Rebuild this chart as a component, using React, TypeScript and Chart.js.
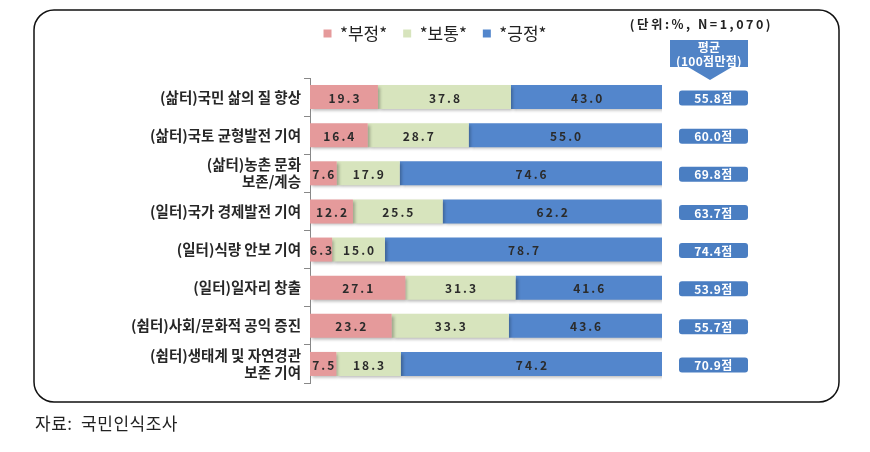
import React, { useEffect, useRef } from "react";
import { Chart, registerables } from "chart.js";
Chart.register(...registerables);

const categories: (string | string[])[] = [
  "(삶터)국민 삶의 질 향상",
  "(삶터)국토 균형발전 기여",
  ["(삶터)농촌 문화", "보존/계승"],
  "(일터)국가 경제발전 기여",
  "(일터)식량 안보 기여",
  "(일터)일자리 창출",
  "(쉼터)사회/문화적 공익 증진",
  ["(쉼터)생태계 및 자연경관", "보존 기여"],
];
const seriesNames = ["*부정*", "*보통*", "*긍정*"];
const negative = [19.3, 16.4, 7.6, 12.2, 6.3, 27.1, 23.2, 7.5];
const neutral = [37.8, 28.7, 17.9, 25.5, 15.0, 31.3, 33.3, 18.3];
const positive = [43.0, 55.0, 74.6, 62.2, 78.7, 41.6, 43.6, 74.2];
const averages = [55.8, 60.0, 69.8, 63.7, 74.4, 53.9, 55.7, 70.9];
const unitText = "(단위:%, N=1,070)";
const headerLines = ["평균", "(100점만점)"];
const sourceText = "자료:  국민인식조사";

const COLORS = ["#e59a9b", "#d7e4bd", "#5386cc"];
const KFONT = "'Noto Sans CJK KR', 'Noto Sans', sans-serif";

function roundRect(ctx: CanvasRenderingContext2D, x: number, y: number, w: number, h: number, r: number) {
  ctx.beginPath();
  ctx.moveTo(x + r, y);
  ctx.lineTo(x + w - r, y);
  ctx.arcTo(x + w, y, x + w, y + r, r);
  ctx.lineTo(x + w, y + h - r);
  ctx.arcTo(x + w, y + h, x + w - r, y + h, r);
  ctx.lineTo(x + r, y + h);
  ctx.arcTo(x, y + h, x, y + h - r, r);
  ctx.lineTo(x, y + r);
  ctx.arcTo(x, y, x + r, y, r);
  ctx.closePath();
}

function spaced(ctx: CanvasRenderingContext2D, px: number) {
  (ctx as any).letterSpacing = px + "px";
}

const decoPlugin = {
  id: "deco",
  beforeDraw(chart: any) {
    const ctx: CanvasRenderingContext2D = chart.ctx;
    ctx.save();
    ctx.fillStyle = "#ffffff";
    ctx.fillRect(0, 0, chart.width, chart.height);
    // outer rounded frame
    ctx.lineWidth = 1.5;
    ctx.strokeStyle = "#111";
    roundRect(ctx, 34, 10, 805, 392, 20);
    ctx.stroke();
    // unit text
    ctx.fillStyle = "#222";
    ctx.font = `bold 12.5px ${KFONT}`;
    spaced(ctx, 2.5);
    ctx.textAlign = "right";
    ctx.textBaseline = "middle";
    ctx.fillText(unitText, 773, 24);
    // header arrow
    ctx.fillStyle = "#5083c6";
    ctx.fillRect(670, 40, 78, 27);
    ctx.beginPath();
    ctx.moveTo(688, 67);
    ctx.lineTo(732, 67);
    ctx.lineTo(710, 80);
    ctx.closePath();
    ctx.fill();
    ctx.fillStyle = "#ffffff";
    ctx.font = `bold 12px ${KFONT}`;
    spaced(ctx, 0.3);
    ctx.textAlign = "center";
    ctx.fillText(headerLines[0], 709, 47);
    ctx.fillText(headerLines[1], 709, 61);
    // source
    ctx.fillStyle = "#222";
    ctx.font = `17px ${KFONT}`;
    spaced(ctx, 0.5);
    ctx.textAlign = "left";
    ctx.fillText(sourceText, 35, 424);
    ctx.restore();
  },
  beforeDatasetsDraw(chart: any) {
    const ctx = chart.ctx;
    ctx.save();
    ctx.shadowColor = "rgba(0,0,0,0.28)";
    ctx.shadowBlur = 3;
    ctx.shadowOffsetX = 2;
    ctx.shadowOffsetY = 2;
  },
  afterDatasetsDraw(chart: any) {
    const ctx: CanvasRenderingContext2D = chart.ctx;
    ctx.restore();
    ctx.save();
    ctx.font = `bold 12px ${KFONT}`;
    spaced(ctx, 2);
    ctx.textAlign = "center";
    ctx.textBaseline = "middle";
    ctx.fillStyle = "#2b2b2b";
    chart.data.datasets.forEach((ds: any, di: number) => {
      const meta = chart.getDatasetMeta(di);
      meta.data.forEach((bar: any, i: number) => {
        const x = (bar.x + bar.base) / 2 + 1;
        ctx.fillText(Number(ds.data[i]).toFixed(1), x, bar.y + 1);
      });
    });
    // averages
    const yScale = chart.scales.y;
    ctx.font = `bold 12px ${KFONT}`;
    spaced(ctx, 0.5);
    averages.forEach((v, i) => {
      const y = yScale.getPixelForValue(i) + 1;
      ctx.fillStyle = "#4a7ec2";
      roundRect(ctx, 679, y - 7.5, 69, 15, 3);
      ctx.fill();
      ctx.fillStyle = "#ffffff";
      ctx.fillText(v.toFixed(1) + "점", 713.5, y + 0.5);
    });
    ctx.restore();
  },
};

export default function App() {
  const ref = useRef<HTMLCanvasElement>(null);
  useEffect(() => {
    const chart = new Chart(ref.current!, {
      type: "bar",
      data: {
        labels: categories,
        datasets: [negative, neutral, positive].map((d, i) => ({
          label: seriesNames[i],
          data: d,
          backgroundColor: COLORS[i],
          borderWidth: 0,
          barPercentage: 0.63,
          categoryPercentage: 1,
        })),
      },
      options: {
        indexAxis: "y",
        responsive: false,
        animation: false,
        layout: { padding: { left: 0, right: 0, top: 9, bottom: 69 } },
        plugins: {
          legend: {
            display: true,
            position: "top",
            labels: {
              boxWidth: 8,
              boxHeight: 8,
              padding: 16,
              color: "#222",
              font: { family: KFONT, size: 17 },
            },
          },
          tooltip: { enabled: false },
        },
        scales: {
          x: {
            stacked: true,
            min: 0,
            max: 100,
            position: "top",
            display: true,
            grid: { display: false },
            border: { display: false },
            ticks: { display: false },
            afterFit: (s: any) => {
              s.height = 26;
            },
          },
          y: {
            stacked: true,
            afterFit: (s: any) => {
              s.width = 310;
            },
            grid: {
              display: true,
              drawOnChartArea: false,
              drawTicks: true,
              tickLength: 6,
              offset: true,
              color: "#888",
            },
            border: { display: true, color: "#888" },
            ticks: {
              color: "#262626",
              padding: 3,
              font: { family: KFONT, size: 14.5, weight: "bold", lineHeight: 1.15 },
            },
          },
          yr: {
            axis: "y",
            type: "linear",
            position: "right",
            display: true,
            grid: { display: false },
            border: { display: false },
            ticks: { display: false },
            afterFit: (s: any) => {
              s.width = 208;
            },
          },
        },
      },
      plugins: [decoPlugin],
    } as any);
    return () => chart.destroy();
  }, []);
  return (
    <div style={{ position: "absolute", left: 0, top: 0, width: 870, height: 452 }}>
      <canvas ref={ref} width={870} height={452} />
    </div>
  );
}
